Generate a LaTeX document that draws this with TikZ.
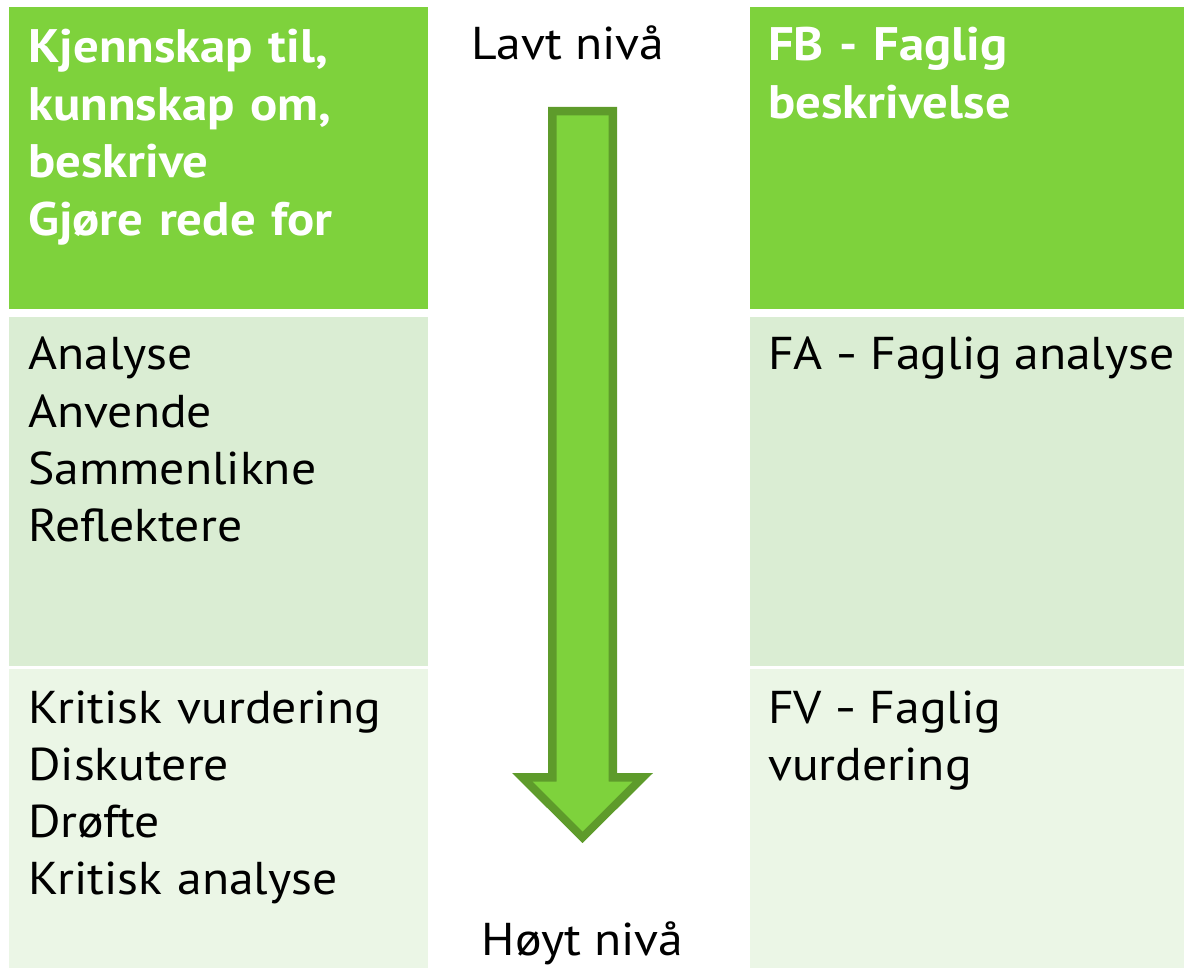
\documentclass[tikz,border=0pt]{standalone}
\usepackage{fontspec}
\setmainfont{PT Sans}[FakeStretch=1.08]
\definecolor{topgreen}{RGB}{126,210,60}
\definecolor{midgreen}{RGB}{218,237,211}
\definecolor{lowgreen}{RGB}{235,246,230}
\definecolor{arrowdark}{RGB}{94,155,43}
\tikzset{
  hdrtext/.style={anchor=base west, inner sep=0pt, text width=420pt, align=left, text=white,
    font=\bfseries\fontsize{47}{57.5}\selectfont},
  bodytext/.style={anchor=base west, inner sep=0pt, text width=430pt, align=left, text=black,
    font=\fontsize{46}{57.3}\selectfont},
  lvltext/.style={anchor=base, inner sep=0pt, text=black, font=\fontsize{46}{57.3}\selectfont},
}
\newcommand{\shortdash}{\kern-3pt\scalebox{0.7}[1]{–}\kern-3pt}
\begin{document}
\begin{tikzpicture}[x=1pt,y=-1pt]
\useasboundingbox (0,0) rectangle (1184,968);
% cells
\fill[topgreen] (9,7) rectangle (428,309);
\fill[midgreen] (9,317) rectangle (428,666);
\fill[lowgreen] (9,669) rectangle (428,968);
\fill[topgreen] (750,7) rectangle (1184,309);
\fill[midgreen] (750,317) rectangle (1184,666);
\fill[lowgreen] (750,669) rectangle (1184,968);
% arrow
\fill[arrowdark] (548,107) -- (617,107) -- (617,773) -- (653,773) -- (582.5,843) -- (512,773) -- (548,773) -- cycle;
\fill[topgreen] (556.5,115.5) -- (608.5,115.5) -- (608.5,781.5) -- (632.5,781.5) -- (582.5,831.5) -- (532.5,781.5) -- (556.5,781.5) -- cycle;
% texts
\node[hdrtext] (lt) at (28,63) {Kjennskap til,\\kunnskap om,\\beskrive\\Gjøre rede for};
\node[hdrtext] (rt) at (768,61) {FB - Faglig\\beskrivelse};
\node[bodytext] (lm) at (28,370) {Analyse\\Anvende\\Sammenlikne\\Reflektere};
\node[bodytext] (rm) at (768,370) {FA \shortdash{} Faglig\kern-3pt{} analyse};
\node[bodytext] (lb) at (28,723) {Kritisk vurdering\\Diskutere\\Drøfte\\Kritisk analyse};
\node[bodytext] (rb) at (768,723) {FV \shortdash{} Faglig\\vurdering};
\node[lvltext] (low) at (568,60) {Lavt nivå};
\node[lvltext] (high) at (582.5,955) {Høyt nivå};
\end{tikzpicture}
\end{document}
